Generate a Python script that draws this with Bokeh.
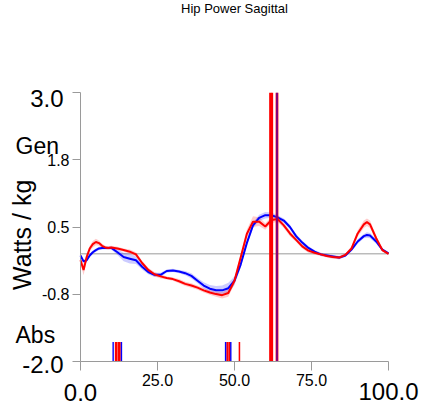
import math
from bokeh.plotting import figure
from bokeh.models import Range1d, FixedTicker, ColumnDataSource, LinearAxis, Label
from bokeh.embed import file_html
from bokeh.resources import INLINE

# ---------------- data ----------------
title_text = "Hip Power Sagittal"
y_label = "Watts / kg"
gen_text, abs_text = "Gen", "Abs"

x_pct = [0, 1, 2, 3, 4, 5, 6, 7, 8, 9, 10, 12, 14, 16, 18, 20, 22, 24, 26, 28, 30,
         32, 34, 36, 38, 40, 42, 44, 46, 48, 50, 52, 54, 56, 58, 60, 62, 64, 66, 68,
         70, 72, 74, 76, 78, 80, 82, 84, 86, 88, 90, 92, 93, 94, 96, 98, 100]

blue_mean = [-0.03, -0.14, -0.12, -0.03, 0.03, 0.07, 0.10, 0.11, 0.11, 0.11, 0.11,
             0.03, -0.06, -0.09, -0.12, -0.24, -0.34, -0.39, -0.39, -0.32, -0.31,
             -0.33, -0.36, -0.41, -0.50, -0.59, -0.65, -0.68, -0.68, -0.64, -0.50,
             -0.20, 0.20, 0.53, 0.67, 0.72, 0.72, 0.68, 0.62, 0.50,
             0.33, 0.21, 0.11, 0.04, -0.01, -0.03, -0.05, -0.07, -0.03, 0.08,
             0.23, 0.33, 0.35, 0.34, 0.23, 0.08, 0.01]
blue_sd = [0.03, 0.04, 0.04, 0.03, 0.03, 0.03, 0.03, 0.03, 0.03, 0.03, 0.03,
           0.05, 0.08, 0.09, 0.07, 0.05, 0.04, 0.04, 0.04, 0.03, 0.03,
           0.03, 0.04, 0.05, 0.05, 0.06, 0.07, 0.08, 0.09, 0.10, 0.08,
           0.06, 0.05, 0.05, 0.06, 0.06, 0.05, 0.04, 0.04, 0.04,
           0.04, 0.04, 0.03, 0.03, 0.03, 0.03, 0.03, 0.03, 0.03, 0.03,
           0.04, 0.04, 0.05, 0.05, 0.04, 0.03, 0.02]

red_mean = [-0.12, -0.30, -0.06, 0.10, 0.18, 0.22, 0.20, 0.15, 0.12, 0.11, 0.12,
            0.10, 0.07, 0.04, -0.01, -0.17, -0.30, -0.38, -0.42, -0.45, -0.47,
            -0.51, -0.56, -0.59, -0.63, -0.68, -0.72, -0.75, -0.77, -0.73, -0.50,
            -0.07, 0.37, 0.60, 0.60, 0.51, 0.63, 0.65, 0.53, 0.38,
            0.26, 0.14, 0.06, 0.02, -0.01, -0.04, -0.06, -0.07, -0.02, 0.10,
            0.38, 0.55, 0.59, 0.55, 0.29, 0.07, 0.00]
red_sd = [0.06, 0.10, 0.06, 0.05, 0.06, 0.06, 0.05, 0.04, 0.03, 0.03, 0.03,
          0.03, 0.03, 0.04, 0.04, 0.04, 0.04, 0.04, 0.04, 0.03, 0.03,
          0.04, 0.04, 0.04, 0.04, 0.04, 0.04, 0.05, 0.06, 0.07, 0.06,
          0.06, 0.08, 0.10, 0.08, 0.06, 0.06, 0.05, 0.05, 0.05,
          0.04, 0.04, 0.04, 0.03, 0.03, 0.03, 0.03, 0.03, 0.03, 0.04,
          0.06, 0.07, 0.07, 0.07, 0.05, 0.03, 0.02]

# gait events (% cycle)
red_full_events = [61.6, 62.2, 63.8]
blue_full_events = [63.8]
red_short_events = [11.6, 12.6, 47.7, 48.4, 51.6]
blue_short_events = [10.6, 13.3, 47.1, 48.8]
short_event_top = -1.64

y_ticks = [3.0, 1.75, 0.5, -0.75, -2.0]
y_tick_labels = ["3.0", "1.8", "0.5", "-0.8", "-2.0"]
x_ticks = [0, 25, 50, 75, 100]
x_tick_labels = ["0.0", "25.0", "50.0", "75.0", "100.0"]
y_min, y_max = -2.0, 3.0
x_min, x_max = 0, 100

# ---------------- layout (pixels) ----------------
W, H = 423, 413
FL, FR, FT, FB = 80, 388, 92.3, 360.7      # plotting area inside the canvas
FONT = "Liberation Sans"
AXIS_GRAY = "#9a9a9a"

sx = (FR - FL) / (x_max - x_min)
sy = (FB - FT) / (y_max - y_min)
xr = Range1d(x_min - FL / sx, x_max + (W - FR) / sx)
yr = Range1d(y_min - (H - FB) / sy, y_max + FT / sy)

p = figure(width=W, height=H, output_backend="svg", toolbar_location=None,
           x_range=xr, y_range=yr, x_axis_location=None, y_axis_location=None,
           min_border=0)
p.title.visible = False
p.outline_line_color = None
p.grid.visible = False
p.background_fill_color = "white"
p.border_fill_color = "white"

big = ("3.0", "-2.0", "0.0", "100.0")


def make_axis(ticks, labels, loc, bounds, side, tick_out, standoff):
    ax = LinearAxis(fixed_location=loc, bounds=bounds, ticker=FixedTicker(ticks=ticks),
                    major_label_overrides={t: ("" if l in big else l) for t, l in zip(ticks, labels)},
                    major_label_text_font=FONT, major_label_text_font_size="16px",
                    major_label_text_color="black", major_label_standoff=standoff,
                    axis_line_color=AXIS_GRAY, major_tick_line_color=AXIS_GRAY,
                    minor_tick_line_color=None, major_tick_out=tick_out, major_tick_in=0,
                    minor_tick_out=0, minor_tick_in=0)
    p.add_layout(ax, side)


make_axis(y_ticks, y_tick_labels, x_min, (y_min, y_max), "left", 8, 3)
make_axis(x_ticks, x_tick_labels, y_min, (x_min, x_max), "below", 9, 4)

# zero reference line
p.line(x=[x_min, x_max], y=[0, 0], line_color=AXIS_GRAY, line_width=1)

# bands and curves
src = ColumnDataSource(dict(
    x=x_pct,
    b=blue_mean, bl=[m - s for m, s in zip(blue_mean, blue_sd)], bu=[m + s for m, s in zip(blue_mean, blue_sd)],
    r=red_mean, rl=[m - s for m, s in zip(red_mean, red_sd)], ru=[m + s for m, s in zip(red_mean, red_sd)],
))
p.varea(x="x", y1="bl", y2="bu", source=src, fill_color="#0000ff", fill_alpha=0.2)
p.varea(x="x", y1="rl", y2="ru", source=src, fill_color="#ff0000", fill_alpha=0.2)
p.line(x="x", y="b", source=src, line_color="#0000ff", line_width=2)
p.line(x="x", y="r", source=src, line_color="#ff0000", line_width=2)

# events
p.vbar(x=red_full_events, width=[0.7, 0.7, 0.9], top=y_max, bottom=y_min,
       fill_color="#ff0000", line_color=None)
p.vbar(x=blue_full_events, width=0.3, top=y_max, bottom=y_min,
       fill_color="#0000ff", line_color=None)
p.vbar(x=red_short_events, width=[0.9, 0.9, 0.7, 0.7, 0.5], top=short_event_top, bottom=y_min,
       fill_color="#ff0000", line_color=None)
p.vbar(x=blue_short_events, width=0.45, top=short_event_top, bottom=y_min,
       fill_color="#0000ff", line_color=None)


# texts
def lab(text, x, y, size, xo=0, yo=0, align="left", angle=0):
    p.add_layout(Label(x=x, y=y, x_offset=xo, y_offset=yo, text=text,
                       text_font=FONT, text_font_size=size, text_color="black",
                       text_align=align, text_baseline="alphabetic", angle=angle))


lab(title_text, (x_min + x_max) / 2, y_max, "13px", yo=84, align="center")
lab(y_tick_labels[0], x_min, y_max, "24px", xo=-17, yo=-6, align="right")
lab(y_tick_labels[-1], x_min, y_min, "24px", xo=-17, yo=-3, align="right")
lab(x_tick_labels[0], x_min, y_min, "24px", yo=-31, align="center")
lab(x_tick_labels[-1], x_max, y_min, "24px", yo=-30, align="center")
lab(gen_text, x_min, y_max, "23px", xo=-65, yo=-53)
lab(abs_text, x_min, y_min, "23px", xo=-65, yo=26)
lab(y_label, x_min, y_max, "25px", xo=-59, yo=-142, align="center", angle=math.pi / 2)

open("out.html", "w").write(file_html(p, INLINE))
